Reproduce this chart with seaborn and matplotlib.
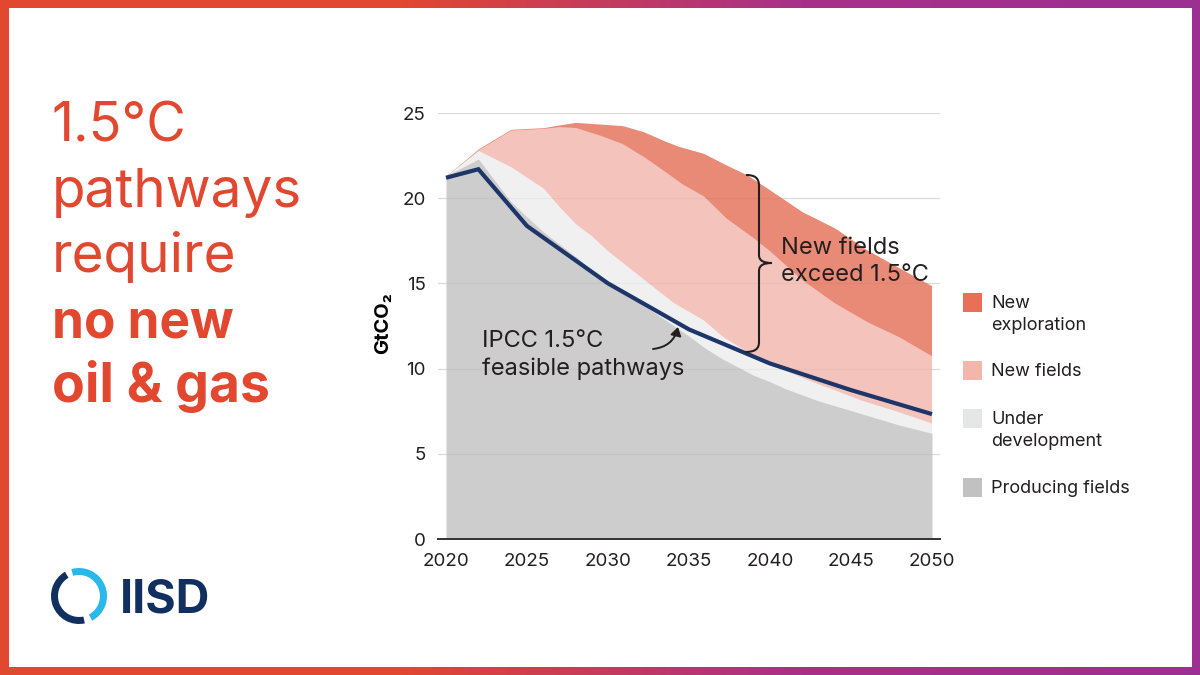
import numpy as np
import pandas as pd
import matplotlib
matplotlib.use("Agg")
import matplotlib.pyplot as plt
from matplotlib.colors import LinearSegmentedColormap
from matplotlib.patches import Rectangle, Wedge, PathPatch, FancyArrowPatch
from matplotlib.path import Path
from matplotlib.transforms import Bbox, TransformedBbox
import seaborn as sns

# ---------- data (upper boundary of every stacked band, GtCO2) ----------
exploration_years = [2020, 2022, 2024, 2026, 2027, 2028, 2030.9, 2032.2, 2033.4, 2034.3, 2035.9, 2037.3, 2038.6, 2040, 2042, 2044, 2046, 2048, 2050]
exploration_top = [21.3, 22.9, 24.04, 24.14, 24.3, 24.45, 24.26, 23.9, 23.4, 23.06, 22.63, 21.95, 21.36, 20.48, 19.2, 18.25, 16.96, 15.9, 14.85]

new_fields_years = [2020, 2022, 2024, 2026, 2027, 2028, 2029.5, 2030.9, 2032.2, 2033.4, 2034.6, 2035.9, 2037.3, 2039, 2040, 2042, 2044, 2046, 2048, 2050]
new_fields_top = [21.3, 22.85, 24.0, 24.1, 24.2, 24.15, 23.7, 23.2, 22.44, 21.65, 20.83, 20.13, 18.83, 17.66, 16.9, 15.2, 13.85, 12.75, 11.85, 10.74]

development_years = [2020, 2022, 2024, 2026, 2027, 2028, 2029, 2030, 2032, 2034, 2035.9, 2037.1, 2038.6, 2040, 2043, 2044, 2045.6, 2048, 2050]
development_top = [21.3, 22.8, 21.85, 20.6, 19.5, 18.5, 17.78, 16.9, 15.4, 13.9, 12.85, 11.87, 11.0, 10.25, 9.1, 8.75, 8.16, 7.45, 6.8]

producing_years = [2020, 2022, 2024, 2025, 2026, 2028, 2030, 2032, 2034, 2035, 2036, 2037, 2038, 2039, 2040, 2041, 2042, 2043, 2044, 2046, 2048, 2050]
producing_top = [21.3, 22.3, 19.8, 18.9, 18.03, 16.57, 15.0, 13.83, 12.56, 11.9, 11.2, 10.6, 10.1, 9.6, 9.23, 8.8, 8.45, 8.1, 7.82, 7.25, 6.68, 6.2]

pathway_years = [2020, 2022, 2025, 2030, 2035, 2040, 2045, 2050]
pathway_values = [21.2, 21.7, 18.37, 15.0, 12.3, 10.3, 8.74, 7.33]

x_ticks = [2020, 2025, 2030, 2035, 2040, 2045, 2050]
y_ticks = [0, 5, 10, 15, 20, 25]

headline_lines = ["1.5°C", "pathways", "require", "no new", "oil & gas"]
headline_weights = ["normal", "normal", "normal", "bold", "bold"]
legend_labels = ["New\nexploration", "New fields", "Under\ndevelopment", "Producing fields"]

# ---------- styling ----------
sns.set_theme(style="white")
FONT = ["Inter", "DejaVu Sans"]
plt.rcParams["font.family"] = FONT
INK = "#231f20"
RED = "#e2472f"
NAVY = "#1d3568"
band_colors = ["#e88a76", "#f4c4bc", "#f0f0f1", "#cccdcc"]
legend_colors = ["#e96f58", "#f3b6ab", "#e5e6e6", "#c1c1c1"]

W, H = 1200, 675
fig = plt.figure(figsize=(12, 6.75), dpi=100, facecolor="white")

# gradient frame
bg = fig.add_axes([0, 0, 1, 1], zorder=0)
cmap = LinearSegmentedColormap.from_list("frame", ["#e2472f", "#e2472f", "#a8308a", "#9c2f92"])
bg.imshow(np.linspace(0, 1, 600)[None, :], aspect="auto", cmap=cmap, extent=[0, W, H, 0])
bg.add_patch(Rectangle((9, 8), W - 17, H - 16, fc="white", ec="none"))
bg.set_xlim(0, W); bg.set_ylim(H, 0); bg.axis("off")

# chart axes: 2020 at x=446, 2050 at x=932; 0 at y=539, 25 at y=113
px_per_year = (932 - 446) / 30
x0 = 2020 - (446 - 438) / px_per_year
x1 = 2050 + (940 - 932) / px_per_year
ax = fig.add_axes([438 / W, 1 - 539 / H, (940 - 438) / W, (539 - 113) / H], zorder=1)
ax.patch.set_alpha(0)
ax.set_xlim(x0, x1); ax.set_ylim(0, 25)

for v in y_ticks[1:]:
    ax.axhline(v, color="#e2e2e2", lw=0.9, zorder=1)

bands = [(exploration_years, exploration_top), (new_fields_years, new_fields_top),
         (development_years, development_top), (producing_years, producing_top)]
inner = TransformedBbox(Bbox([[2020 + 1 / px_per_year, 0], [2050 - 1 / px_per_year, 25]]), ax.transData)
for i, ((xs, ys), c) in enumerate(zip(bands, band_colors)):
    poly = ax.fill_between(xs, 0, ys, color=c, lw=0, zorder=2)
    if i < 3:
        poly.set_clip_box(inner)

for v in y_ticks[1:]:
    ax.axhline(v, color="black", alpha=0.035, lw=0.9, zorder=3)

df = pd.DataFrame({"year": pathway_years, "gt": pathway_values})
sns.lineplot(data=df, x="year", y="gt", ax=ax, color=NAVY, lw=3.0, zorder=5,
             solid_joinstyle="miter", solid_capstyle="butt", errorbar=None)

for s in ["top", "right", "left"]:
    ax.spines[s].set_visible(False)
ax.spines["bottom"].set_color("#333333"); ax.spines["bottom"].set_linewidth(1.4)
ax.spines["bottom"].set_zorder(6)
ax.set_xticks(x_ticks); ax.set_yticks(y_ticks)
ax.tick_params(axis="both", length=0, labelsize=13.5, labelcolor=INK, pad=0)
ax.tick_params(axis="x", pad=10)
ax.tick_params(axis="y", pad=9)
ax.set_xlabel(""); ax.set_ylabel("")

# overlay in pixel coordinates for annotations and decoration
ov = fig.add_axes([0, 0, 1, 1], zorder=2)
ov.set_xlim(0, W); ov.set_ylim(H, 0); ov.axis("off"); ov.patch.set_alpha(0)

baselines = [142, 207, 272, 337, 402]
head_sizes = [39, 39.5, 39.5, 37, 38.5]
for t, w, b, s in zip(headline_lines, headline_weights, baselines, head_sizes):
    ov.text(52, b, t, fontsize=s, color=RED, fontweight=w, va="baseline", ha="left", family=FONT)

ov.text(383, 323.5, "GtCO₂", rotation=90, fontsize=14.5, fontweight="bold", color="black",
        ha="center", va="center", family=FONT)

TXT = 17
ov.text(781, 254, "New fields", fontsize=TXT, color=INK, va="baseline", ha="left")
ov.text(781, 281, "exceed 1.5°C", fontsize=TXT, color=INK, va="baseline", ha="left")
ov.text(482, 347, "IPCC 1.5°C", fontsize=TXT, color=INK, va="baseline", ha="left")
ov.text(482, 375, "feasible pathways", fontsize=TXT, color=INK, va="baseline", ha="left")

# brace
verts = [(746, 175), (755, 175), (759, 178), (759, 186), (759, 255), (759, 261), (764, 263), (772, 263),
         (764, 263), (759, 265), (759, 271), (759, 342), (759, 349), (755, 352), (745, 352)]
codes = [Path.MOVETO, Path.CURVE4, Path.CURVE4, Path.CURVE4, Path.LINETO, Path.CURVE4, Path.CURVE4, Path.CURVE4,
         Path.CURVE4, Path.CURVE4, Path.CURVE4, Path.LINETO, Path.CURVE4, Path.CURVE4, Path.CURVE4]
ov.add_patch(PathPatch(Path(verts, codes), fc="none", ec=INK, lw=1.5))

# arrow
ov.add_patch(FancyArrowPatch((653, 349), (678, 327), connectionstyle="arc3,rad=0.35",
                             arrowstyle="-|>,head_length=5,head_width=3.2", color=INK, lw=1.4,
                             shrinkA=0, shrinkB=0))

# legend
legend_tops = [293, 361, 409, 478]
LEG = 13
for lab, c, top in zip(legend_labels, legend_colors, legend_tops):
    ov.add_patch(Rectangle((963, top), 19, 19, fc=c, ec="none"))
    for k, part in enumerate(lab.split("\n")):
        ov.text(991, top + 15 + 22 * k, part, fontsize=LEG, color=INK, va="baseline", ha="left")

# logo
ov.add_patch(Wedge((79, 596), 28, 78, 240, width=7, fc="#12305f", ec="none"))
ov.add_patch(Wedge((79, 596), 28, -106, 62, width=7, fc="#29b8ea", ec="none"))
ov.text(120, 612.5, "IISD", fontsize=33.5, fontweight="bold", color="#12305f", va="baseline", ha="left")

fig.savefig("out.png", dpi=100)
